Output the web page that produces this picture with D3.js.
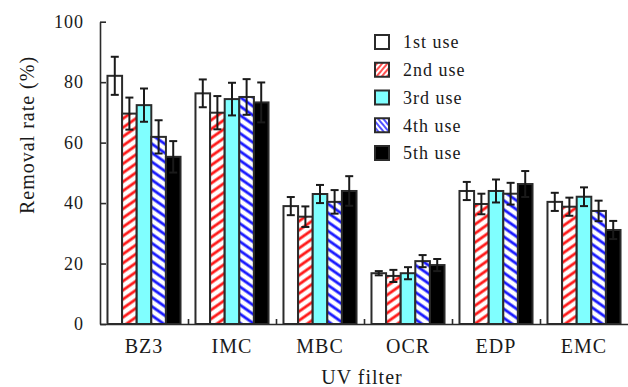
<!DOCTYPE html>
<html>
<head>
<meta charset="utf-8">
<script src="https://cdn.jsdelivr.net/npm/d3@7"></script>
<style>
  body { margin: 0; background: #fff; }
  text { font-family: "Liberation Serif", "Times New Roman", serif; fill: #1a1a1a; }
</style>
</head>
<body>
<div id="chart"></div>
<script>
var filters = ["BZ3", "IMC", "MBC", "OCR", "EDP", "EMC"];
var uses = ["1st use", "2nd use", "3rd use", "4th use", "5th use"];

// removal rate (%) and error for each use, per filter
var use1 = [82.1, 76.3, 39.0, 16.8, 44.0, 40.4];
var use2 = [69.6, 69.9, 35.5, 15.9, 39.7, 38.8];
var use3 = [72.4, 74.4, 43.0, 16.8, 44.0, 42.1];
var use4 = [61.9, 75.1, 40.4, 20.8, 43.1, 37.4];
var use5 = [55.3, 73.3, 44.0, 19.5, 46.3, 31.1];
var err1 = [6.3, 4.6, 3.0, 0.7, 3.0, 3.0];
var err2 = [5.3, 5.5, 3.4, 2.0, 3.4, 3.0];
var err3 = [5.5, 5.4, 3.0, 2.0, 3.8, 3.1];
var err4 = [5.5, 5.9, 3.9, 2.0, 3.6, 3.4];
var err5 = [5.2, 6.6, 4.9, 2.0, 4.3, 3.0];
var yTicks = [0, 20, 40, 60, 80, 100];

var svgWidth = 628;
var svgHeight = 387;
var margin = { top: 21.7, right: 0, bottom: 63, left: 100 };
var width = svgWidth - margin.left - margin.right;
var height = svgHeight - margin.top - margin.bottom;

var svg = d3.select("#chart").append("svg")
  .attr("width", svgWidth)
  .attr("height", svgHeight);

var defs = svg.append("defs");
function stripes(id, color, angle, size) {
  var p = defs.append("pattern")
    .attr("id", id)
    .attr("patternUnits", "userSpaceOnUse")
    .attr("width", size).attr("height", size)
    .attr("patternTransform", "rotate(" + angle + ")");
  p.append("rect").attr("width", size).attr("height", size).attr("fill", "#fff");
  p.append("line")
    .attr("x1", size / 2).attr("y1", 0)
    .attr("x2", size / 2).attr("y2", size)
    .attr("stroke", color).attr("stroke-width", size * 0.38);
}
stripes("red", "#ff1a1a", 55, 7.4);
stripes("blue", "#1a1aff", -55, 7.4);
stripes("redL", "#ff1a1a", 40, 4);
stripes("blueL", "#1a1aff", -40, 4);

var fills = ["#ffffff", "url(#red)", "#80ffff", "url(#blue)", "#000000"];
var legendFills = ["#ffffff", "url(#redL)", "#80ffff", "url(#blueL)", "#000000"];

var series = [use1, use2, use3, use4, use5];
var errors = [err1, err2, err3, err4, err5];

var chartGroup = svg.append("g")
  .attr("transform", `translate(${margin.left}, ${margin.top})`);

var x0 = d3.scaleBand()
  .domain(filters)
  .range([0, width])
  .paddingInner(0.17)
  .paddingOuter(0.085);

var x1 = d3.scaleBand()
  .domain(uses)
  .range([0, x0.bandwidth()]);

var y = d3.scaleLinear()
  .domain([0, 100])
  .range([height, 0]);

// bars + error bars, one series at a time
series.forEach(function(vals, s) {
  var g = chartGroup.append("g");
  var data = filters.map(function(f, i) { return { f: f, v: vals[i], e: errors[s][i] }; });
  g.selectAll("rect")
    .data(data)
    .enter()
    .append("rect")
    .attr("x", d => x0(d.f) + x1(uses[s]))
    .attr("y", d => y(d.v))
    .attr("width", x1.bandwidth())
    .attr("height", d => height - y(d.v))
    .attr("fill", fills[s])
    .attr("stroke", "#2b2b2b")
    .attr("stroke-width", 2);

  var eb = g.selectAll("g.err")
    .data(data)
    .enter()
    .append("g")
    .attr("class", "err")
    .attr("stroke", "#1a1a1a")
    .attr("stroke-width", 2);
  var cx = d => x0(d.f) + x1(uses[s]) + x1.bandwidth() / 2;
  eb.append("line")
    .attr("x1", cx).attr("x2", cx)
    .attr("y1", d => y(d.v + d.e)).attr("y2", d => y(d.v - d.e));
  eb.append("line")
    .attr("x1", d => cx(d) - 4).attr("x2", d => cx(d) + 4)
    .attr("y1", d => y(d.v + d.e)).attr("y2", d => y(d.v + d.e));
  eb.append("line")
    .attr("x1", d => cx(d) - 4).attr("x2", d => cx(d) + 4)
    .attr("y1", d => y(d.v - d.e)).attr("y2", d => y(d.v - d.e));
});

// y axis
var leftAxis = d3.axisLeft(y)
  .tickValues(yTicks)
  .tickSizeInner(-6)
  .tickSizeOuter(0)
  .tickPadding(16);
var yAxis = chartGroup.append("g").call(leftAxis);
yAxis.selectAll("text")
  .style("font-size", "18px")
  .style("letter-spacing", "1px")
  .style("font-family", "'Liberation Serif', serif");

// x axis: labels, then group separator ticks
var bottomAxis = d3.axisBottom(x0).tickSize(0).tickPadding(15);
var xAxis = chartGroup.append("g")
  .attr("transform", `translate(0, ${height})`)
  .call(bottomAxis);
xAxis.selectAll("text")
  .style("font-size", "20px")
  .style("letter-spacing", "1px")
  .style("font-family", "'Liberation Serif', serif");

var sep = d3.scaleLinear().domain([0, filters.length]).range([0, width]);
chartGroup.append("g")
  .attr("transform", `translate(0, ${height})`)
  .call(d3.axisBottom(sep).tickValues([1, 2, 3, 4, 5]).tickSize(-5).tickFormat(""))
  .select(".domain").remove();

chartGroup.selectAll(".domain, .tick line")
  .attr("stroke", "#2b2b2b")
  .attr("stroke-width", 1.6);

// axis titles
svg.append("text")
  .attr("transform", "translate(27, 135) rotate(-90)")
  .attr("text-anchor", "middle")
  .attr("dy", "0.35em")
  .style("font-size", "20px")
  .style("letter-spacing", "1px")
  .text("Removal rate (%)");

svg.append("text")
  .attr("x", margin.left + width / 2 - 2)
  .attr("y", 384)
  .attr("text-anchor", "middle")
  .style("font-size", "20px")
  .style("letter-spacing", "1px")
  .text("UV filter");

// legend
var legend = svg.append("g").attr("transform", "translate(375, 35)");
var rows = legend.selectAll("g")
  .data(uses)
  .enter()
  .append("g")
  .attr("transform", (d, i) => `translate(0, ${i * 27.75})`);
rows.append("rect")
  .attr("width", 14).attr("height", 14)
  .attr("fill", (d, i) => legendFills[i])
  .attr("stroke", "#2b2b2b")
  .attr("stroke-width", 2);
rows.append("text")
  .attr("x", 28)
  .attr("y", 7)
  .attr("dy", "0.35em")
  .style("font-size", "18px")
  .style("letter-spacing", "1px")
  .text(d => d);
</script>
</body>
</html>
